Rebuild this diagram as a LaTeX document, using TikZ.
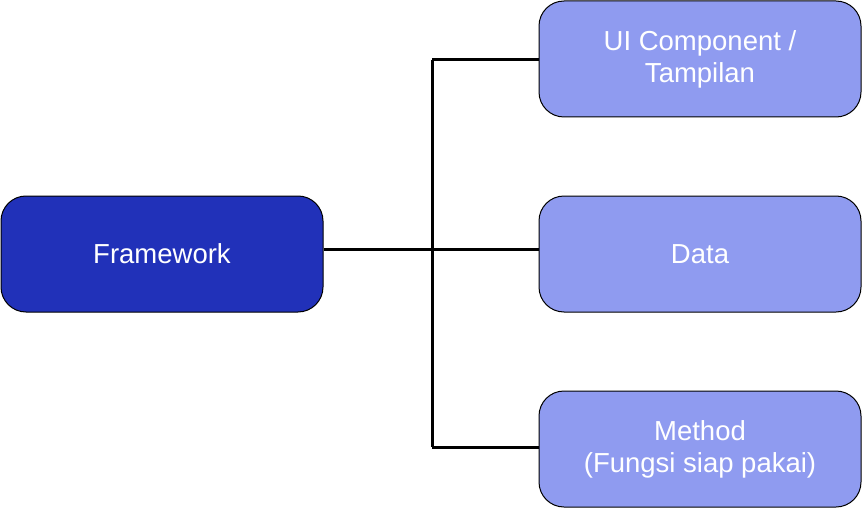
\documentclass[tikz,border=0pt]{standalone}
\usepackage{fontspec}
\setmainfont{Liberation Sans}
\definecolor{darkbox}{HTML}{2131B9}
\definecolor{lightbox}{HTML}{8F9BF0}
\begin{document}
\begin{tikzpicture}[x=1pt,y=-1pt,
  box/.style={draw=black,line width=1pt,rounded corners=25pt,minimum width=322pt,minimum height=116pt,text=white,align=center,inner sep=0pt,font=\fontsize{27.5}{32}\selectfont},
  conn/.style={draw=black,line width=3pt}]
\useasboundingbox (0,0) rectangle (862,508);
\node[box,fill=darkbox] (fw) at (162,254) {Framework};
\node[box,fill=lightbox] (ui) at (700,59) {UI Component /\\ Tampilan};
\node[box,fill=lightbox] (data) at (700,254) {Data};
\node[box,fill=lightbox] (meth) at (700,449) {Method\\(Fungsi siap pakai)};
\coordinate (j) at (432,249);
\draw[conn] (fw.east |- j) -- (data.west |- j);
\draw[conn] (j |- 0,60) -- (j |- 0,447);
\draw[conn] (j |- 0,60) -- (ui.west |- 0,60);
\draw[conn] (j |- 0,447) -- (meth.west |- 0,447);
\end{tikzpicture}
\end{document}
